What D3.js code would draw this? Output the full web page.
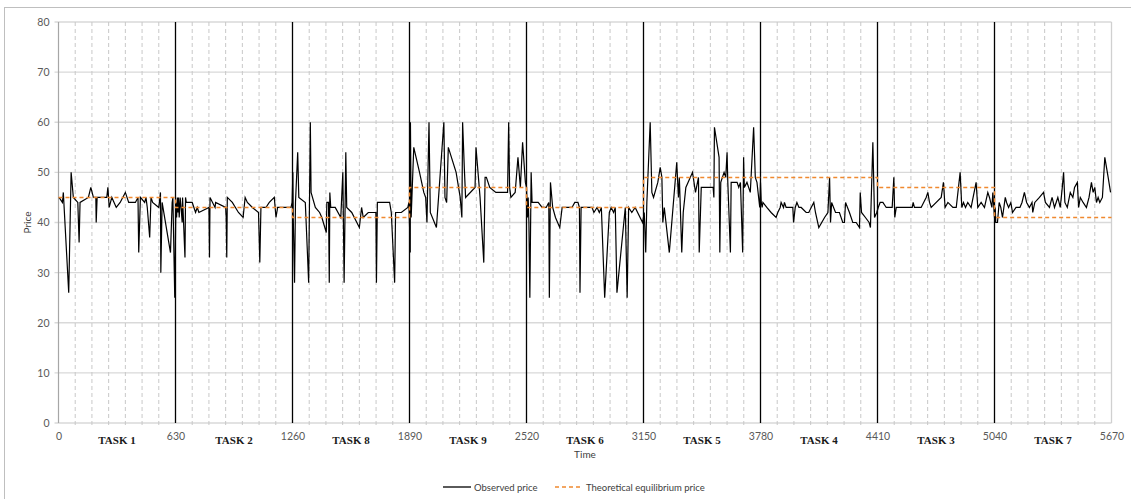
<!DOCTYPE html>
<html>
<head>
<meta charset="utf-8">
<script src="https://cdnjs.cloudflare.com/ajax/libs/d3/7.8.5/d3.min.js"></script>
<style>
  body { margin: 0; background: #fff; }
  svg { display: block; }
</style>
</head>
<body>
<svg id="chart" width="1131" height="499"></svg>
<script>
// Tick labels and task names
var xTicks = [0, 630, 1260, 1890, 2520, 3150, 3780, 4410, 5040, 5670];
var yTicks = [0, 10, 20, 30, 40, 50, 60, 70, 80];
var taskNames = ["TASK 1", "TASK 2", "TASK 8", "TASK 9", "TASK 6", "TASK 5", "TASK 4", "TASK 3", "TASK 7"];

// Theoretical equilibrium price per task (same order as taskNames)
var eqPrice = [45, 43, 41, 47, 43, 49, 49, 47, 41];

// Observed price, [time, price], one array per task block
var obsTask1 = [[3,45],[21,44],[26,46],[55,26],[68,50],[80,45],[104,44],[111,36],[116,44],[161,45],[174,47],[188,45],[201,45],[203,40],[208,45],[260,45],[266,47],[273,43],[287,45],[311,43],[332,44],[360,46],[378,44],[414,44],[428,45],[432,34],[441,45],[464,44],[471,45],[478,43],[491,37],[498,45],[507,44],[540,43],[549,46],[551,30],[558,44],[603,34],[612,44],[616,45],[626,25]];
var obsTask2 = [[632,44],[636,41],[640,45],[643,42],[646,45],[650,41],[655,45],[660,43],[666,40],[668,45],[681,33],[684,45],[688,44],[720,44],[738,42],[747,43],[756,42],[810,43],[813,33],[816,45],[843,43],[846,44],[900,43],[903,41],[906,33],[909,45],[936,44],[969,42],[994,41],[1005,45],[1017,44],[1044,43],[1077,42],[1084,32],[1090,43],[1117,43],[1135,44],[1162,45],[1171,41],[1180,43],[1225,43],[1252,43],[1258,44]];
var obsTask8 = [[1262,50],[1264,41],[1271,28],[1276,44],[1288,54],[1294,45],[1329,44],[1347,28],[1356,60],[1360,46],[1383,43],[1406,42],[1418,41],[1442,38],[1445,44],[1454,44],[1458,28],[1461,46],[1466,43],[1490,43],[1520,41],[1531,50],[1538,28],[1547,54],[1552,43],[1579,42],[1620,39],[1632,43],[1641,41],[1668,42],[1709,42],[1712,28],[1717,44],[1744,44],[1783,44],[1792,42],[1810,28],[1815,42],[1846,42],[1881,43],[1887,44]];
var obsTask9 = [[1894,34],[1895,60],[1899,41],[1913,55],[1944,50],[1967,46],[1977,45],[1984,40],[1995,60],[2002,42],[2035,39],[2075,60],[2081,45],[2090,44],[2099,55],[2141,50],[2163,45],[2172,41],[2176,60],[2185,51],[2192,45],[2243,47],[2248,55],[2270,45],[2290,32],[2297,49],[2304,49],[2322,47],[2355,46],[2418,46],[2424,60],[2429,47],[2436,45],[2459,46],[2474,53],[2487,47],[2499,56],[2514,48]];
var obsTask6 = [[2520,47],[2525,41],[2529,45],[2533,40],[2538,25],[2545,50],[2550,44],[2583,44],[2604,43],[2626,43],[2640,44],[2643,25],[2649,48],[2661,43],[2676,41],[2699,39],[2712,43],[2765,43],[2780,44],[2797,44],[2805,43],[2808,26],[2814,43],[2873,43],[2883,42],[2900,43],[2912,42],[2923,43],[2941,25],[2966,42],[2976,43],[2989,42],[2998,43],[3007,26],[3052,43],[3062,25],[3070,43],[3087,42],[3105,43],[3145,40]];
var obsTask5 = [[3154,42],[3162,34],[3168,44],[3186,60],[3195,46],[3204,45],[3227,48],[3240,51],[3249,49],[3254,40],[3262,43],[3289,34],[3329,52],[3338,45],[3343,49],[3356,34],[3364,42],[3378,47],[3414,50],[3430,46],[3446,49],[3450,34],[3461,47],[3525,47],[3529,45],[3532,59],[3557,53],[3561,34],[3566,48],[3584,50],[3593,49],[3600,54],[3604,48],[3618,34],[3622,48],[3654,48],[3663,47],[3672,48],[3684,34],[3689,53],[3693,47],[3707,48],[3725,46],[3743,59],[3752,49],[3761,48],[3776,43]];
var obsTask4 = [[3780,48],[3784,44],[3789,43],[3793,44],[3814,43],[3837,42],[3864,41],[3873,42],[3886,43],[3891,44],[3904,43],[3909,44],[3918,43],[3954,43],[3958,40],[3967,43],[3976,44],[3987,43],[3999,43],[4026,42],[4040,42],[4053,43],[4067,44],[4076,42],[4094,39],[4125,41],[4143,42],[4152,49],[4157,40],[4163,44],[4184,42],[4205,42],[4223,40],[4232,40],[4238,44],[4259,42],[4277,40],[4295,40],[4313,39],[4317,46],[4324,42],[4345,41],[4365,40],[4372,39],[4385,56],[4394,41],[4406,42]];
var obsTask3 = [[4414,43],[4424,44],[4439,44],[4457,43],[4489,43],[4498,49],[4503,41],[4511,43],[4537,43],[4564,43],[4597,43],[4602,44],[4609,43],[4645,43],[4672,45],[4681,46],[4690,44],[4699,43],[4753,45],[4765,48],[4774,43],[4789,44],[4816,43],[4834,43],[4855,50],[4864,43],[4873,44],[4884,43],[4896,44],[4914,43],[4941,48],[4950,43],[4968,44],[4986,43],[5004,46],[5013,45],[5026,43],[5031,46]];
var obsTask7 = [[5042,40],[5044,43],[5047,40],[5056,40],[5065,44],[5074,43],[5083,41],[5098,45],[5105,44],[5116,43],[5128,44],[5137,42],[5156,43],[5177,43],[5188,44],[5201,46],[5213,44],[5228,43],[5242,44],[5246,42],[5257,44],[5282,45],[5304,46],[5314,44],[5336,43],[5350,45],[5363,43],[5381,45],[5394,43],[5405,47],[5412,50],[5419,44],[5432,43],[5448,46],[5462,45],[5471,47],[5486,48],[5493,43],[5502,45],[5517,44],[5535,43],[5549,45],[5562,48],[5571,46],[5580,47],[5589,44],[5598,45],[5607,44],[5621,45],[5634,53],[5652,49],[5665,46]];

var observed = [].concat(obsTask1, obsTask2, obsTask8, obsTask9, obsTask6, obsTask5, obsTask4, obsTask3, obsTask7);

var TASK_LEN = 630;
var svg = d3.select("#chart");

// chart frame
svg.append("rect")
    .attr("x", 4.5).attr("y", 7.5)
    .attr("width", 1140).attr("height", 500)
    .attr("fill", "none")
    .attr("stroke", "#bfbfbf")
    .attr("stroke-width", 1);

var x = d3.scaleLinear().domain([0, 5670]).range([58.5, 1111.5]);
var y = d3.scaleLinear().domain([0, 80]).range([423, 22]);

// horizontal grid
svg.append("g").selectAll("line").data(yTicks).enter().append("line")
    .attr("x1", x(0) - 4).attr("x2", x(5670))
    .attr("y1", function(d) { return y(d); })
    .attr("y2", function(d) { return y(d); })
    .attr("stroke", "#d9d9d9")
    .attr("stroke-width", 1.3);

// minor vertical grid (dashed), every 90
var minor = d3.range(90, 5670, 90).filter(function(d) { return d % TASK_LEN != 0; });
svg.append("g").selectAll("line").data(minor).enter().append("line")
    .attr("x1", function(d) { return x(d); })
    .attr("x2", function(d) { return x(d); })
    .attr("y1", y(80)).attr("y2", y(0) + 3)
    .attr("stroke", "#c8c8c8")
    .attr("stroke-dasharray", "4,3")
    .attr("stroke-width", 1);

// plot edges
svg.append("line").attr("x1", x(0)).attr("x2", x(0)).attr("y1", y(80)).attr("y2", y(0))
    .attr("stroke", "#a6a6a6").attr("stroke-width", 1.2);
svg.append("line").attr("x1", x(5670)).attr("x2", x(5670)).attr("y1", y(80)).attr("y2", y(0))
    .attr("stroke", "#d0d0d0").attr("stroke-width", 1.3);

// task boundaries
var bounds = xTicks.slice(1, xTicks.length - 1);
svg.append("g").selectAll("line").data(bounds).enter().append("line")
    .attr("x1", function(d) { return x(d); })
    .attr("x2", function(d) { return x(d); })
    .attr("y1", y(80)).attr("y2", y(0))
    .attr("stroke", "#000")
    .attr("stroke-width", 1.3);

// y axis labels
var yAxis = svg.append("g")
    .attr("transform", "translate(" + x(0) + ",0)")
    .call(d3.axisLeft(y).tickValues(yTicks).tickSize(0).tickPadding(9));
yAxis.select(".domain").remove();
yAxis.selectAll("text").attr("font-family", "Lato, 'Open Sans', sans-serif").attr("font-size", "10.5px").attr("fill", "#595959");

// x axis labels
var xAxis = svg.append("g")
    .attr("transform", "translate(0," + y(0) + ")")
    .call(d3.axisBottom(x).tickValues(xTicks).tickFormat(d3.format("d")).tickSize(0).tickPadding(10));
xAxis.select(".domain").remove();
xAxis.selectAll("text").attr("font-family", "Lato, 'Open Sans', sans-serif").attr("font-size", "10.5px").attr("fill", "#595959");

// task names between boundaries
svg.append("g").selectAll("text").data(taskNames).enter().append("text")
    .attr("x", function(d, i) { return x(i * TASK_LEN + TASK_LEN / 2); })
    .attr("y", 444)
    .attr("text-anchor", "middle")
    .attr("font-family", "'Liberation Serif', serif")
    .attr("font-weight", "bold")
    .attr("font-size", "11px")
    .attr("fill", "#1a1a1a")
    .text(function(d) { return d; });

// axis titles
svg.append("text").text("Time")
    .attr("x", x(2835)).attr("y", 458)
    .attr("text-anchor", "middle")
    .attr("font-family", "Lato, 'Open Sans', sans-serif")
    .attr("font-size", "10px").attr("fill", "#404040");
svg.append("text").text("Price")
    .attr("transform", "translate(31," + y(40) + ") rotate(-90)")
    .attr("text-anchor", "middle")
    .attr("font-family", "Lato, 'Open Sans', sans-serif")
    .attr("font-size", "10px").attr("fill", "#404040");

// observed price
svg.append("path")
    .datum(observed)
    .attr("fill", "none")
    .attr("stroke", "#000")
    .attr("stroke-width", 1.2)
    .attr("d", d3.line()
        .x(function(d) { return x(d[0]); })
        .y(function(d) { return y(d[1]); }));

// equilibrium step line (drawn over the observed line, as in the original)
var eqPts = eqPrice.map(function(p, i) { return [i * TASK_LEN, p]; });
eqPts.push([5670, eqPrice[eqPrice.length - 1]]);
svg.append("path")
    .datum(eqPts)
    .attr("fill", "none")
    .attr("stroke", "#f0892f")
    .attr("stroke-width", 1.5)
    .attr("stroke-dasharray", "4,3")
    .attr("d", d3.line().curve(d3.curveStepAfter)
        .x(function(d) { return x(d[0]); })
        .y(function(d) { return y(d[1]); }));

// legend
var leg = svg.append("g").attr("font-family", "Lato, 'Open Sans', sans-serif").attr("font-size", "9.5px").attr("fill", "#404040");
leg.append("line").attr("x1", 443).attr("x2", 471).attr("y1", 487).attr("y2", 487)
    .attr("stroke", "#000").attr("stroke-width", 1.3);
leg.append("text").attr("x", 474).attr("y", 490.5).text("Observed price");
leg.append("line").attr("x1", 555).attr("x2", 582).attr("y1", 487).attr("y2", 487)
    .attr("stroke", "#f0892f").attr("stroke-width", 1.5).attr("stroke-dasharray", "4,3");
leg.append("text").attr("x", 586).attr("y", 490.5).text("Theoretical equilibrium price");
</script>
</body>
</html>
